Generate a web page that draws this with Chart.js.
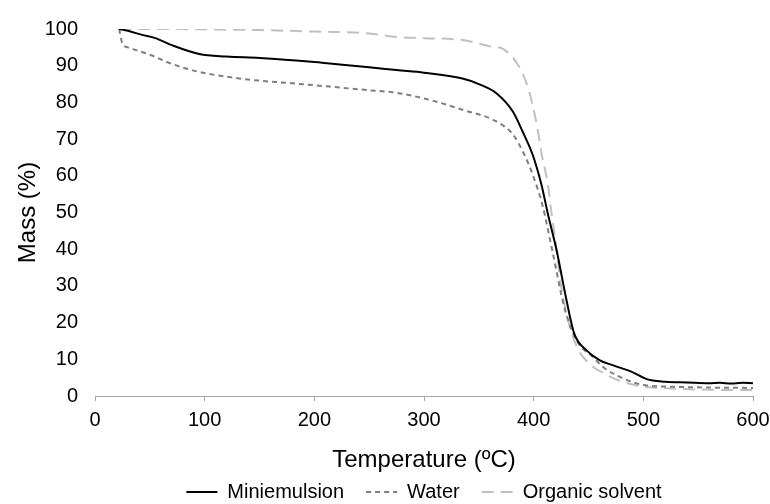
<!DOCTYPE html>
<html>
<head>
<meta charset="utf-8">
<title>TGA curves</title>
<script src="https://cdn.jsdelivr.net/npm/chart.js@4.4.1/dist/chart.umd.min.js"></script>
<style>
    html, body { margin: 0; padding: 0; background: #fff; }
    #wrap { width: 770px; height: 504px; }
</style>
</head>
<body>
<div id="wrap"><canvas id="tgaChart" width="770" height="504"></canvas></div>
<script>
// Thermogravimetric curves: mass (%) vs temperature (ºC)

const seriesNames = ['Miniemulsion', 'Water', 'Organic solvent'];

// Miniemulsion (solid black)
const miniTemp = [22, 30, 43, 55, 70, 95, 120, 150, 200, 214, 250, 275, 300, 335, 350, 366, 381, 390, 399, 407, 413, 421, 430, 437, 448, 460, 472, 490, 503, 520, 540, 560, 570, 580, 590, 600];
const miniMass = [100, 99.5, 98.4, 97.5, 95.6, 93.2, 92.5, 92.1, 91, 90.6, 89.6, 88.8, 88.1, 86.5, 85, 82.5, 77.5, 72, 65.8, 57.7, 49.6, 39.6, 26, 17, 12.5, 9.8, 8.4, 6.5, 4.6, 3.9, 3.7, 3.5, 3.6, 3.4, 3.6, 3.5];

// Water (dark dashed)
const waterTemp = [22, 25, 30, 40, 50, 70, 95, 120, 144, 180, 214, 250, 275, 305, 335, 366, 381, 390, 399, 408, 417, 428, 439, 454, 465, 480, 500, 530, 560, 600];
const waterMass = [100, 96, 95, 94, 93, 90.5, 88.3, 87, 86.1, 85.2, 84.3, 83.3, 82.6, 80.7, 78, 74.8, 71.3, 66.7, 60.4, 52, 39.6, 24.1, 15.2, 10.6, 7.5, 5, 3, 2.5, 2.3, 2.2];

// Organic solvent (light long dash)
const organicTemp = [22, 50, 100, 150, 200, 250, 275, 300, 335, 360, 372, 384, 393, 399, 404, 408, 413, 416, 420, 425, 432, 440, 450, 465, 480, 500, 530, 560, 600];
const organicMass = [100, 100, 99.9, 99.7, 99.3, 98.8, 97.8, 97.5, 97, 95.3, 94.6, 91, 85.6, 79.4, 72, 64.8, 57.7, 50.4, 42, 30, 20, 13, 9, 6, 4, 2.5, 2, 1.7, 1.6];

const xTicks = [0, 100, 200, 300, 400, 500, 600];
const yTicks = [0, 10, 20, 30, 40, 50, 60, 70, 80, 90, 100];

const fontFamily = '"Liberation Sans", Arial, sans-serif';

function toPoints(temps, masses) {
    return temps.map((t, i) => ({ x: t, y: masses[i] }));
}

// legend with point style takes its style from the first point, so put the dash back
function dashedLegendLabels(chart) {
    const items = Chart.defaults.plugins.legend.labels.generateLabels(chart);
    return items.map((item, i) => ({
        ...item,
        lineDash: chart.data.datasets[i].borderDash || [],
        lineWidth: 2
    }));
}

const ctx = document.getElementById('tgaChart');

new Chart(ctx, {
    type: 'line',
    data: {
        datasets: [
            {
                label: seriesNames[0],
                data: toPoints(miniTemp, miniMass),
                borderColor: '#000000',
                borderWidth: 2
            },
            {
                label: seriesNames[1],
                data: toPoints(waterTemp, waterMass),
                borderColor: '#7f7f7f',
                borderWidth: 2,
                borderDash: [5, 4]
            },
            {
                label: seriesNames[2],
                data: toPoints(organicTemp, organicMass),
                borderColor: '#c0c0c0',
                borderWidth: 2,
                borderDash: [12, 7]
            }
        ]
    },
    options: {
        responsive: false,
        animation: false,
        events: [],
        elements: {
            point: { radius: 0 },
            line: { tension: 0.4, cubicInterpolationMode: 'monotone', fill: false }
        },
        layout: {
            padding: { top: 27, right: 17, bottom: -8, left: 0 }
        },
        plugins: {
            tooltip: { enabled: false },
            legend: {
                position: 'bottom',
                fullSize: false,
                labels: {
                    color: '#000',
                    usePointStyle: true,
                    pointStyle: 'line',
                    pointStyleWidth: 31,
                    padding: 22,
                    font: { family: fontFamily, size: 20 },
                    generateLabels: dashedLegendLabels
                }
            }
        },
        scales: {
            x: {
                type: 'linear',
                min: 0,
                max: 600,
                afterBuildTicks: (scale) => { scale.ticks = xTicks.map(v => ({ value: v })); },
                afterFit: (scale) => {
                    scale.height = 64;
                    scale.paddingLeft = 0;
                    scale.paddingRight = 0;
                },
                ticks: {
                    color: '#000',
                    padding: 7,
                    maxRotation: 0,
                    font: { family: fontFamily, size: 20 }
                },
                grid: {
                    drawOnChartArea: false,
                    drawTicks: true,
                    tickLength: 5,
                    color: '#a6a6a6'
                },
                border: { display: true, color: '#a6a6a6', width: 1 },
                title: {
                    display: true,
                    text: 'Temperature (ºC)',
                    color: '#000',
                    padding: { top: 0, bottom: -15 },
                    font: { family: fontFamily, size: 24 }
                }
            },
            y: {
                type: 'linear',
                min: 0,
                max: 100,
                afterBuildTicks: (scale) => { scale.ticks = yTicks.map(v => ({ value: v })); },
                afterFit: (scale) => { scale.width = 95; },
                ticks: {
                    color: '#000',
                    padding: 17,
                    font: { family: fontFamily, size: 20 }
                },
                grid: { display: false, drawTicks: false },
                border: { display: false },
                title: {
                    display: true,
                    text: 'Mass (%)',
                    color: '#000',
                    padding: { top: 14, bottom: 0 },
                    font: { family: fontFamily, size: 24 }
                }
            }
        }
    }
});
</script>
</body>
</html>
